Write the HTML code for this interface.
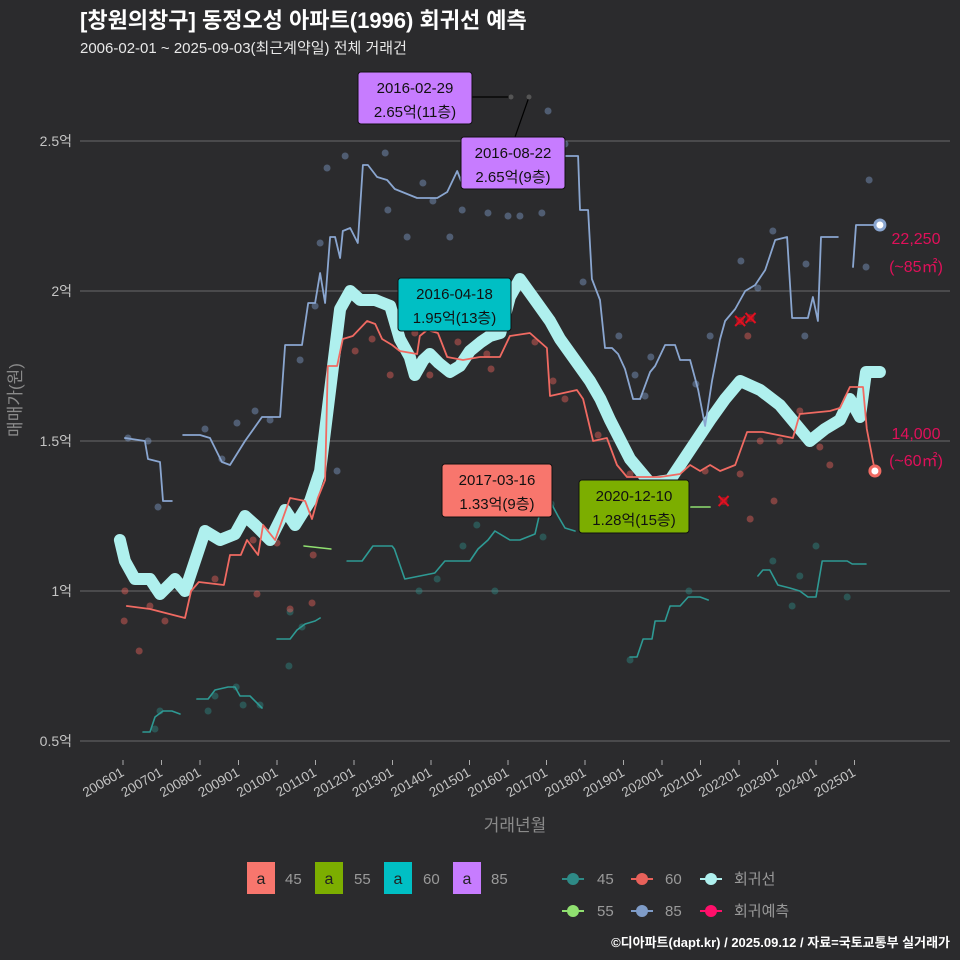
<!DOCTYPE html>
<html><head><meta charset="utf-8"><style>
html,body{margin:0;padding:0;background:#2b2b2d;}
svg{display:block;font-family:"Liberation Sans","Noto Sans CJK KR",sans-serif;}
</style></head><body>
<svg id="chart" width="960" height="960" viewBox="0 0 960 960" xmlns="http://www.w3.org/2000/svg">
<rect x="0" y="0" width="960" height="960" fill="#2b2b2d"/>
<text x="80" y="28" fill="#ffffff" font-size="22" font-weight="bold">[창원의창구] 동정오성 아파트(1996) 회귀선 예측</text>
<text x="80" y="53" fill="#e8e8e8" font-size="15">2006-02-01 ~ 2025-09-03(최근계약일) 전체 거래건</text>
<g id="grid"></g>
<g id="marks"></g>
<g id="annot"></g>
<text transform="translate(21,400) rotate(-90)" text-anchor="middle" fill="#8a8a8a" font-size="17">매매가(원)</text>
<text x="515" y="831" text-anchor="middle" fill="#8a8a8a" font-size="17">거래년월</text>
<g font-size="15" fill="#9a9a9a">
 <g><rect x="247" y="862" width="28" height="32" fill="#f8766d"/><text x="261" y="884" text-anchor="middle" fill="#222" font-size="16">a</text><text x="285" y="884">45</text></g>
 <g><rect x="315" y="862" width="28" height="32" fill="#7cae00"/><text x="329" y="884" text-anchor="middle" fill="#222" font-size="16">a</text><text x="354" y="884">55</text></g>
 <g><rect x="384" y="862" width="28" height="32" fill="#00bfc4"/><text x="398" y="884" text-anchor="middle" fill="#222" font-size="16">a</text><text x="423" y="884">60</text></g>
 <g><rect x="453" y="862" width="28" height="32" fill="#c77cff"/><text x="467" y="884" text-anchor="middle" fill="#222" font-size="16">a</text><text x="491" y="884">85</text></g>
 <g><line x1="562" y1="879" x2="584" y2="879" stroke="#2e8a86" stroke-width="2"/><circle cx="573" cy="879" r="6" fill="#2e8a86"/><text x="597" y="884">45</text></g>
 <g><line x1="631" y1="879" x2="653" y2="879" stroke="#e8615a" stroke-width="2"/><circle cx="642" cy="879" r="6" fill="#e8615a"/><text x="665" y="884">60</text></g>
 <g><line x1="700" y1="879" x2="722" y2="879" stroke="#aff0ee" stroke-width="2"/><circle cx="711" cy="879" r="6" fill="#aff0ee"/><text x="734" y="884">회귀선</text></g>
 <g><line x1="562" y1="911" x2="584" y2="911" stroke="#90e070" stroke-width="2"/><circle cx="573" cy="911" r="6" fill="#90e070"/><text x="597" y="916">55</text></g>
 <g><line x1="631" y1="911" x2="653" y2="911" stroke="#7f9cc8" stroke-width="2"/><circle cx="642" cy="911" r="6" fill="#7f9cc8"/><text x="665" y="916">85</text></g>
 <g><line x1="700" y1="911" x2="722" y2="911" stroke="#ff0f6a" stroke-width="2"/><circle cx="711" cy="911" r="6" fill="#ff0f6a"/><text x="734" y="916">회귀예측</text></g>
</g>
<text x="950" y="947" text-anchor="end" fill="#ffffff" font-size="13" font-weight="bold">©디아파트(dapt.kr) / 2025.09.12 / 자료=국토교통부 실거래가</text>
</svg>
<script>
const yTicks=[0.5,1,1.5,2,2.5];
const yTickLabels=["0.5억","1억","1.5억","2억","2.5억"];
const xTickYears=[2006,2007,2008,2009,2010,2011,2012,2013,2014,2015,2016,2017,2018,2019,2020,2021,2022,2023,2024,2025];
const xTickLabels=["200601","200701","200801","200901","201001","201101","201201","201301","201401","201501","201601","201701","201801","201901","202001","202101","202201","202301","202401","202501"];
const regression=[[2005.92,1.17],[2006.05,1.10],[2006.31,1.04],[2006.7,1.04],[2006.96,0.99],[2007.35,1.04],[2007.61,1.0],[2007.87,1.10],[2008.13,1.20],[2008.52,1.17],[2008.91,1.19],[2009.17,1.25],[2009.43,1.22],[2009.82,1.17],[2010.21,1.27],[2010.47,1.22],[2010.86,1.30],[2011.12,1.40],[2011.38,1.67],[2011.64,1.94],[2011.9,2.0],[2012.16,1.97],[2012.55,1.97],[2012.94,1.95],[2013.19,1.84],[2013.45,1.78],[2013.58,1.72],[2013.8,1.77],[2013.97,1.79],[2014.2,1.76],[2014.49,1.73],[2014.75,1.75],[2015.01,1.80],[2015.3,1.83],[2015.53,1.85],[2015.8,1.86],[2016.05,1.98],[2016.31,2.04],[2016.7,1.97],[2017.09,1.90],[2017.35,1.84],[2017.74,1.77],[2018.13,1.70],[2018.4,1.64],[2018.65,1.57],[2019.17,1.44],[2019.69,1.36],[2020.21,1.37],[2020.73,1.47],[2021.25,1.57],[2021.64,1.64],[2022.03,1.70],[2022.55,1.67],[2023.06,1.62],[2023.58,1.54],[2023.84,1.50],[2024.23,1.54],[2024.62,1.57],[2024.88,1.64],[2025.14,1.58],[2025.3,1.73],[2025.66,1.73]];
const line60=[[2006.1,0.95],[2006.7,0.94],[2007.61,0.91],[2007.77,1.0],[2007.97,1.03],[2008.62,1.02],[2008.78,1.12],[2009.06,1.12],[2009.22,1.17],[2009.51,1.12],[2009.64,1.22],[2009.95,1.17],[2010.34,1.31],[2010.73,1.30],[2010.91,1.24],[2011.06,1.31],[2011.25,1.37],[2011.32,1.75],[2011.56,1.75],[2011.71,1.84],[2011.97,1.85],[2012.34,1.90],[2012.55,1.89],[2012.73,1.84],[2012.99,1.82],[2013.19,1.80],[2013.64,1.79],[2013.71,1.85],[2013.9,1.87],[2014.18,1.86],[2014.42,1.78],[2014.83,1.77],[2015.27,1.78],[2015.79,1.78],[2016.05,1.85],[2016.57,1.86],[2017.01,1.81],[2017.09,1.65],[2017.79,1.67],[2017.95,1.64],[2018.21,1.50],[2018.57,1.51],[2018.83,1.42],[2019.09,1.38],[2019.95,1.38],[2020.47,1.39],[2020.73,1.42],[2020.99,1.40],[2021.25,1.42],[2021.51,1.40],[2021.9,1.42],[2022.21,1.53],[2022.62,1.53],[2023.4,1.51],[2023.58,1.59],[2024.36,1.60],[2024.62,1.61],[2024.88,1.68],[2025.22,1.68],[2025.32,1.54],[2025.53,1.40]];
const line85a=[[2006.05,1.51],[2006.57,1.50],[2006.65,1.44],[2006.96,1.43],[2007.04,1.30],[2007.27,1.30]];
const line85b=[[2007.56,1.52],[2008.0,1.52],[2008.26,1.51],[2008.57,1.43],[2008.78,1.42],[2009.17,1.50],[2009.61,1.58],[2010.08,1.58],[2010.21,1.82],[2010.65,1.82],[2010.81,1.96],[2010.99,1.96],[2011.12,2.06],[2011.25,1.96],[2011.38,2.18],[2011.51,2.18],[2011.64,2.11],[2011.71,2.20],[2011.9,2.21],[2012.1,2.16],[2012.23,2.42],[2012.36,2.42],[2012.6,2.38],[2012.86,2.37],[2013.06,2.34],[2013.64,2.31],[2014.16,2.31],[2014.42,2.33],[2014.68,2.40],[2014.83,2.35],[2015.27,2.35],[2015.66,2.40],[2016.05,2.44],[2016.31,2.40],[2016.83,2.45],[2017.82,2.45],[2017.87,2.27],[2018.08,2.27],[2018.18,2.04],[2018.39,1.97],[2018.52,1.81],[2018.7,1.81],[2018.86,1.79],[2019.04,1.74],[2019.25,1.64],[2019.43,1.64],[2019.69,1.73],[2019.82,1.75],[2020.08,1.82],[2020.34,1.82],[2020.47,1.77],[2020.73,1.77],[2020.94,1.67],[2021.12,1.55],[2021.3,1.70],[2021.51,1.84],[2021.64,1.90],[2021.9,1.94],[2022.16,2.0],[2022.42,2.02],[2022.68,2.07],[2022.94,2.17],[2023.25,2.18],[2023.38,1.91],[2023.79,1.91],[2023.92,1.98],[2024.05,1.90],[2024.13,2.18],[2024.57,2.18]];
const line85c=[[2024.96,2.08],[2025.04,2.22],[2025.66,2.22]];
const line55a=[[2010.7,1.15],[2011.4,1.14]];
const line55b=[[2020.75,1.28],[2021.25,1.28]];
const line45a=[[2006.52,0.53],[2006.7,0.53],[2006.83,0.58],[2007.04,0.60],[2007.27,0.60],[2007.48,0.59]];
const line45b=[[2007.92,0.64],[2008.21,0.64],[2008.39,0.67],[2008.73,0.68],[2008.91,0.68],[2009.04,0.65],[2009.3,0.65],[2009.61,0.61]];
const line45c=[[2010.0,0.84],[2010.34,0.84],[2010.52,0.87],[2010.73,0.89],[2010.99,0.90],[2011.12,0.91]];
const line45d=[[2011.82,1.10],[2012.21,1.10],[2012.49,1.15],[2012.99,1.15],[2013.05,1.14],[2013.32,1.04],[2013.71,1.05],[2014.1,1.06],[2014.36,1.10],[2015.01,1.10],[2015.22,1.14],[2015.48,1.17],[2015.66,1.20],[2016.05,1.17],[2016.31,1.17],[2016.7,1.19],[2016.88,1.29],[2017.09,1.30],[2017.3,1.25],[2017.48,1.21],[2017.74,1.20]];
const line45e=[[2019.17,0.78],[2019.35,0.78],[2019.51,0.84],[2019.74,0.84],[2019.82,0.90],[2020.08,0.90],[2020.21,0.95],[2020.47,0.95],[2020.68,0.98],[2020.99,0.98],[2021.2,0.97]];
const line45f=[[2022.49,1.05],[2022.62,1.07],[2022.8,1.07],[2023.01,1.02],[2023.32,1.01],[2023.58,1.0],[2023.79,0.98],[2024.0,0.98],[2024.16,1.10],[2024.81,1.10],[2024.94,1.09],[2025.3,1.09]];
const dots85=[[2006.13,1.51],[2006.65,1.50],[2006.91,1.28],[2008.13,1.54],[2008.57,1.44],[2008.96,1.56],[2009.43,1.60],[2009.82,1.57],[2011.56,1.40],[2010.6,1.77],[2010.99,1.95],[2011.12,2.16],[2011.3,2.41],[2011.77,2.45],[2012.81,2.46],[2012.88,2.27],[2013.38,2.18],[2013.79,2.36],[2014.05,2.30],[2014.49,2.18],[2014.81,2.27],[2015.06,2.37],[2015.48,2.26],[2016.0,2.25],[2016.31,2.25],[2016.88,2.26],[2017.04,2.6],[2017.48,2.49],[2017.95,2.03],[2018.88,1.85],[2019.3,1.72],[2019.56,1.65],[2019.71,1.78],[2020.88,1.69],[2021.25,1.85],[2022.05,2.10],[2022.49,2.01],[2022.88,2.20],[2023.74,2.09],[2023.71,1.85],[2025.3,2.08],[2025.38,2.37]];
const dots60=[[2006.05,1.0],[2006.03,0.90],[2006.42,0.80],[2006.7,0.95],[2007.09,0.90],[2008.39,1.04],[2009.38,1.17],[2009.48,0.99],[2010.0,1.16],[2010.34,0.94],[2010.94,1.12],[2010.91,0.96],[2012.03,1.80],[2012.47,1.84],[2012.94,1.72],[2013.58,1.86],[2013.97,1.72],[2014.7,1.83],[2015.45,1.79],[2015.56,1.74],[2016.7,1.83],[2017.17,1.70],[2017.48,1.64],[2018.34,1.52],[2018.81,1.32],[2019.17,1.39],[2021.12,1.40],[2022.03,1.39],[2022.23,1.85],[2022.55,1.50],[2022.91,1.30],[2023.06,1.50],[2023.58,1.60],[2024.1,1.48],[2024.36,1.42],[2022.29,1.24]];
const dots45=[[2006.83,0.54],[2006.96,0.60],[2008.21,0.60],[2008.39,0.65],[2008.94,0.68],[2009.12,0.62],[2009.56,0.62],[2010.31,0.75],[2010.34,0.93],[2010.65,0.88],[2013.69,1.0],[2014.16,1.04],[2014.83,1.15],[2015.19,1.22],[2015.66,1.0],[2016.91,1.18],[2017.12,1.29],[2019.17,0.77],[2020.7,1.0],[2022.88,1.10],[2023.38,0.95],[2023.58,1.05],[2024.0,1.15],[2024.81,0.98]];
const predX=[[2022.03,1.90],[2022.3,1.91],[2021.6,1.30]];

const NS="http://www.w3.org/2000/svg";
function X(t){return 123+(t-2006)*38.5;}
function Y(v){return 741-(v-0.5)*300;}
function mk(tag,attrs,parent){const e=document.createElementNS(NS,tag);for(const k in attrs)e.setAttribute(k,attrs[k]);parent.appendChild(e);return e;}
const grid=document.getElementById('grid'),marks=document.getElementById('marks'),ann=document.getElementById('annot');
yTicks.forEach((v,i)=>{
 const l=mk('line',{x1:80,x2:950,y1:Y(v),y2:Y(v),stroke:'#555557','stroke-width':1.5},grid);
 
 
 const t=mk('text',{x:72,y:Y(v)+5,'text-anchor':'end',fill:'#c4c4c4','font-size':14},grid);
 t.textContent=yTickLabels[i];
 
 
});
xTickYears.forEach((yr,i)=>{
 const x=X(yr);
 const tk=mk('line',{x1:x,x2:x,y1:760,y2:765,stroke:'#aaa'},grid);
 
 
 const t=mk('text',{transform:`translate(${x+2},${775}) rotate(-30)`,'text-anchor':'end',fill:'#c4c4c4','font-size':13.5},grid);
 t.textContent=xTickLabels[i];
 
 
});
function path(pts,color,w,name,op){
 const d=pts.map((p,i)=>(i?'L':'M')+X(p[0]).toFixed(1)+','+Y(p[1]).toFixed(1)).join('');
 const e=mk('path',{d:d,fill:'none',stroke:color,'stroke-width':w,'stroke-linejoin':'round','stroke-linecap':'round',opacity:op||1},marks);
 
 
}
function dots(pts,color,name){
 pts.forEach(p=>{
  const c=mk('circle',{cx:X(p[0]),cy:Y(p[1]),r:3.5,fill:color,opacity:0.45},marks);
  
  
 });
}
dots(dots45,'#2e8a86','dot-45');
dots(dots60,'#e8615a','dot-60');
dots(dots85,'#7f9cc8','dot-85');
path(regression,'#aff0ee',12,'regression-line');
[line45a,line45b,line45c,line45d,line45e,line45f].forEach(s=>path(s,'#2e9a94',1.6,'line-45'));
[line55a,line55b].forEach(s=>path(s,'#90e070',1.6,'line-55'));
path(line60,'#f06a62',1.8,'line-60');
[line85a,line85b,line85c].forEach(s=>path(s,'#8aa6d0',1.8,'line-85'));
predX.forEach(p=>{
 const g=mk('g',{},marks);
 
 
 const cx=X(p[0]),cy=Y(p[1]);
 mk('circle',{cx:cx,cy:cy,r:4,fill:'#cc1122',opacity:0.6},g);
 mk('path',{d:`M${cx-5},${cy-5}L${cx+5},${cy+5}M${cx+5},${cy-5}L${cx-5},${cy+5}`,stroke:'#e01020','stroke-width':2},g);
});
const e1=mk('circle',{cx:X(line85c[2][0]),cy:Y(line85c[2][1]),r:5,fill:'#fff',stroke:'#8aa6d0','stroke-width':3},marks);


const e2=mk('circle',{cx:X(line60[line60.length-1][0]),cy:Y(line60[line60.length-1][1]),r:5,fill:'#fff',stroke:'#f06a62','stroke-width':3},marks);


function box(x,y,w,h,fill,l1,l2,name){
 const g=mk('g',{},ann);
 
 
 mk('rect',{x:x,y:y,width:w,height:h,rx:3,fill:fill,stroke:'#111','stroke-width':1},g);
 const a=mk('text',{x:x+w/2,y:y+21,'text-anchor':'middle',fill:'#111','font-size':15},g);a.textContent=l1;
 const b=mk('text',{x:x+w/2,y:y+45,'text-anchor':'middle',fill:'#111','font-size':15},g);b.textContent=l2;
}
mk('line',{x1:472,y1:97,x2:511,y2:97,stroke:'#000','stroke-width':1.2},ann);
mk('circle',{cx:511,cy:97,r:2.5,fill:'#555'},ann);
mk('line',{x1:515,y1:137,x2:529,y2:97,stroke:'#000','stroke-width':1.2},ann);
mk('circle',{cx:529,cy:97,r:2.5,fill:'#555'},ann);
box(358,72,114,52,'#c77cff','2016-02-29','2.65억(11층)','annotation-max-85-a');
box(461,137,104,52,'#c77cff','2016-08-22','2.65억(9층)','annotation-max-85-b');
box(398,278,113,53,'#00bfc4','2016-04-18','1.95억(13층)','annotation-max-60');
box(442,464,110,53,'#f8766d','2017-03-16','1.33억(9층)','annotation-max-45');
box(579,480,110,53,'#7cae00','2020-12-10','1.28억(15층)','annotation-max-55');
[['22,250',244],['(~85㎡)',272],['14,000',439],['(~60㎡)',466]].forEach(r=>{
 const t=mk('text',{x:916,y:r[1],'text-anchor':'middle',fill:'#e0105a','font-size':16},ann);
 t.textContent=r[0];
 
 
});
</script>
</body></html>
